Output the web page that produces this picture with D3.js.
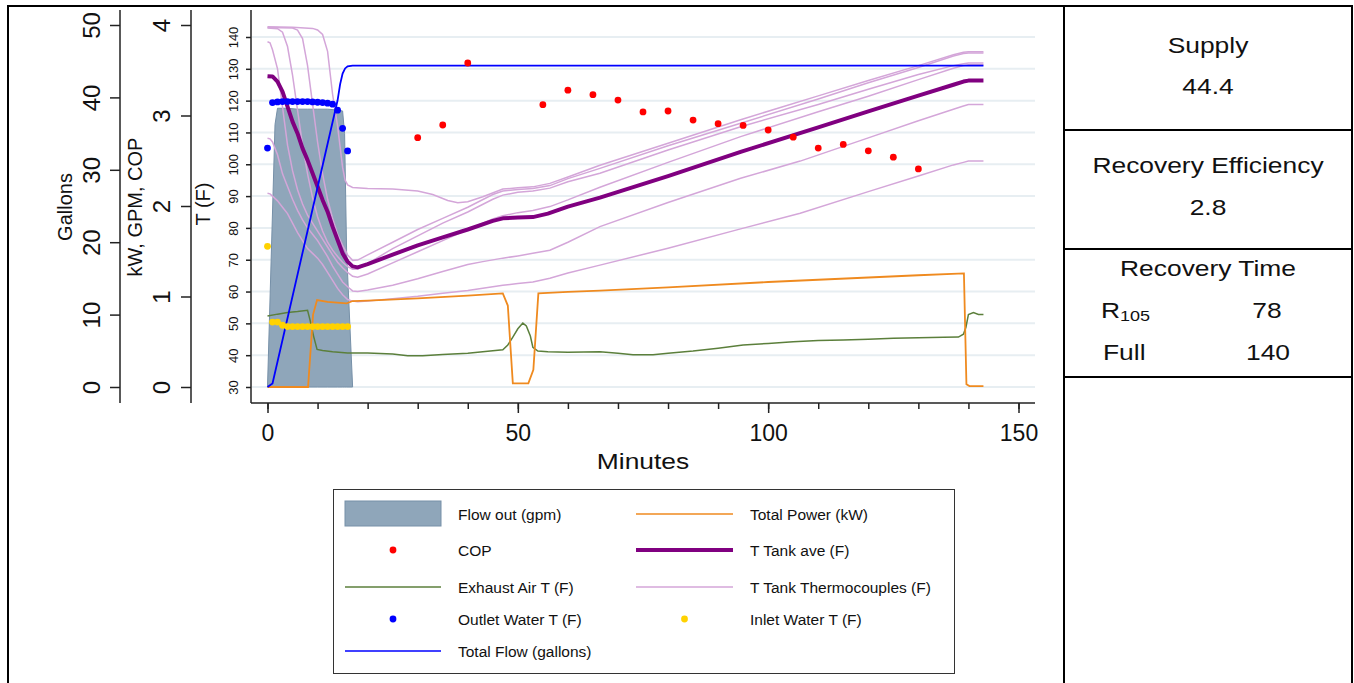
<!DOCTYPE html>
<html>
<head>
<meta charset="utf-8">
<script src="https://cdn.jsdelivr.net/npm/d3@7"></script>
<style>
  body { margin: 0; background: #fff; }
  svg text { font-family: Arial, "Liberation Sans", sans-serif; fill: #111; }
</style>
</head>
<body>
<svg id="chart" width="1354" height="683"></svg>
<script>
// ---- data ----
const xMinorTicks = [0, 10, 20, 30, 40, 50, 60, 70, 80, 90, 100, 110, 120, 130, 140, 150];
const xMajorTicks = [0, 50, 100, 150];
const galTicks = [0, 10, 20, 30, 40, 50];
const kwTicks = [0, 1, 2, 3, 4];
const tTicks = [30, 40, 50, 60, 70, 80, 90, 100, 110, 120, 130, 140];

// [minute, value]
const flowOutGpm = [[0,0],[1.5,2.9],[2,3.08],[4,3.08],[6,3.07],[8,3.07],[10,3.07],[12,3.07],[14,3.06],[15,3.05],[15.4,2.8],[15.8,1.5],[17,0]];
const totalFlowGal = [[0,0],[1,0.5],[14,39.6],[14.5,41.8],[15,43.3],[15.5,44.0],[16,44.3],[17,44.4],[143,44.4]];
const totalPowerKw = [[0,0],[8.1,0],[9.1,0.8],[9.9,0.96],[12,0.94],[15.8,0.925],[17,0.95],[20,0.955],[30,0.98],[40,1.01],[47,1.035],[48,0.9],[49,0.04],[52.1,0.04],[53.1,0.19],[54.1,1.035],[56,1.04],[60,1.05],[66.4,1.065],[80,1.1],[100,1.16],[120,1.21],[130,1.235],[139.1,1.256],[139.6,0.03],[140.2,0.01],[143,0.01]];
const copPoints = [[30,2.755],[35,2.895],[40,3.58],[55,3.12],[60,3.28],[65,3.23],[70,3.17],[75,3.04],[80,3.05],[85,2.95],[90,2.91],[95,2.89],[100,2.84],[105,2.76],[110,2.64],[115,2.68],[120,2.61],[125,2.54],[130,2.41]];
const exhaustAirT = [[0,52.3],[2,52.9],[4,53.4],[6,53.7],[8,54.1],[8.5,51],[9.2,46],[9.9,41.8],[11,41.5],[13,41.1],[16,40.7],[20,40.7],[25,40.4],[28,39.8],[31,39.8],[35,40.2],[40,40.6],[45,41.4],[47,41.7],[48,43.2],[49,45.7],[50,48.3],[51,50.1],[51.7,49.2],[52.5,46],[53,42.5],[54,41.3],[56,41.1],[60,40.9],[66.4,41.1],[70,40.6],[73,40.1],[77,40.1],[80,40.6],[85,41.3],[90,42.2],[95,43.2],[100,43.7],[105,44.2],[110,44.6],[115,44.8],[120,45],[125,45.3],[130,45.5],[135,45.6],[138,45.7],[139,46.6],[139.5,48.8],[140,52.8],[141,53.4],[142,52.8],[143,52.8]];
const tankAveT = [[0,127.7],[1,127.6],[2,126],[3,122.8],[4,118.1],[5,113.4],[6,109.7],[7,105],[8,101.3],[9,97.2],[10,93],[11,88.8],[12,85.1],[13,80.4],[14,76.2],[15,72],[16,69.4],[17,67.9],[18,67.6],[20,68.6],[25,71.6],[30,74.5],[35,77],[40,79.5],[45,82.2],[47,83],[50,83.3],[53,83.4],[56,84.5],[60,86.7],[66.4,89.5],[80,96.3],[94.5,103.9],[110,111.6],[120,116.6],[130,121.6],[137,125],[139,126],[140,126.3],[143,126.3]];
const tcA = [[0,143.2],[5,143.1],[9,142.7],[10,142.2],[11,140.8],[12,135.5],[13,122],[14,112],[15,99],[15.5,95],[16,93.5],[17,92.7],[20,92.4],[25,92.2],[30,91.6],[33,90.5],[36,88.6],[38,87.9],[40,88.2],[43,89.8],[47,92.2],[50,92.6],[53,92.9],[56.4,94],[60,96],[66.4,99.7],[80,106.6],[94.5,114],[110,121.5],[120,126.3],[130,131],[137,134.4],[139,135.2],[140,135.4],[143,135.4]];
const tcB = [[0,143.0],[5,142.8],[6,142.2],[7,139.5],[8,131],[9,119],[10,107],[11,97],[12,89],[13,83],[14,78],[15,74.5],[16,71.5],[17,69.8],[18,69.9],[20,71.5],[25,75.5],[30,79.5],[35,83],[40,86.5],[45,90.5],[47,91.6],[50,92.1],[53,92.4],[56.4,93.3],[60,95.5],[66.4,98.7],[80,105.8],[94.5,112.9],[110,120.5],[120,125.6],[130,130.4],[137,134],[139,134.8],[140,135],[143,135]];
const tcC = [[0,142.8],[2,142.6],[3,141.5],[4,137],[5,128],[6,117],[7,106],[8,97],[9,89.5],[10,83.5],[11,79],[12,75.5],[13,73],[14,71],[15,69.2],[16,67.8],[17,67],[18,67],[20,68.8],[25,73.5],[30,77.5],[35,81.5],[40,85],[45,89],[47,90.3],[50,91.2],[53,91.6],[56.4,92.5],[60,94.5],[66.4,97.2],[80,104.5],[94.5,111.8],[110,118.8],[120,123.6],[130,128.2],[137,131],[139,131.6],[140,131.8],[143,131.8]];
const tcD = [[0,138.5],[0.5,138.2],[1,136],[2,130],[3,118],[4,106],[5,98],[6,92],[7,87.5],[8,84],[9,81.5],[10,79],[11,76.5],[12,74],[13,71.5],[14,69.2],[15,67.5],[16,66],[17,64.8],[18,64.5],[20,65.5],[25,69],[30,72.5],[35,76],[40,79.5],[45,82.8],[47,83.8],[50,84.8],[53,85.5],[56.4,86.7],[60,88.8],[66.4,92.8],[80,100.6],[94.5,108.7],[110,116.5],[120,121.4],[130,126.6],[137,130.2],[139,131],[140,131.3],[143,131.3]];
const tcE = [[0,108.2],[0.5,108],[1,107],[2,103],[3,97],[4,93],[5,89],[6,85.5],[7,82.5],[8,80],[9,78],[10,76],[11,73.5],[12,71],[13,68],[14,65.5],[15,63],[16,61.5],[17,60.2],[18,60],[20,60.5],[25,62],[30,64],[35,66.3],[40,68.5],[43,69.4],[47,70.5],[50,71.2],[53,72],[56.4,73],[60,75.5],[66.4,80.4],[80,88],[94.5,95.6],[106.4,101],[120,108.3],[130,113.7],[137,117.3],[139,118.3],[140,118.8],[143,118.8]];
const tcF = [[0,90.9],[0.5,90.7],[1,90],[2,88.5],[3,86.5],[4,84.5],[5,81.5],[6,78.5],[7,76],[8,73.5],[9,72],[10,70.5],[11,68.5],[12,66],[13,63.5],[14,61],[15,59],[16,57.5],[17,57],[18,56.8],[20,57],[25,57.7],[30,58.5],[35,59.5],[40,60.3],[43,61],[47,62],[50,62.5],[53,63],[56.4,64.2],[60,65.8],[66.4,68.3],[80,73.6],[94.5,79.7],[106.4,84.6],[120,91.4],[130,96.3],[137,99.8],[139,100.6],[140,101],[143,101]];
const thermocouples = [tcA, tcB, tcC, tcD, tcE, tcF];
const outletWaterT = [[0,105.1],[1,119.4],[2,119.6],[3,119.7],[4,119.7],[5,119.7],[6,119.7],[7,119.7],[8,119.7],[9,119.6],[10,119.5],[11,119.4],[12,119.2],[13,118.9],[14,117],[15,111.3],[16,104.2]];
const inletWaterT = [[0,74.2],[1,50.4],[2,50.4],[3,49.4],[4,49],[5,49],[6,49],[7,49],[8,49],[9,49],[10,49],[11,49],[12,49],[13,49],[14,49],[15,49],[16,49]];

const legendItems = [
  { label: "Flow out (gpm)", type: "area", color: "#8fa6ba", col: 0, row: 0 },
  { label: "Total Power (kW)", type: "line", color: "#ef8a1f", width: 1.5, col: 1, row: 0 },
  { label: "COP", type: "dot", color: "#ff0000", col: 0, row: 1 },
  { label: "T Tank ave (F)", type: "line", color: "#800080", width: 4, col: 1, row: 1 },
  { label: "Exhaust Air T (F)", type: "line", color: "#5b7f3b", width: 1.5, col: 0, row: 2 },
  { label: "T Tank Thermocouples (F)", type: "line", color: "#d4a6d9", width: 1.5, col: 1, row: 2 },
  { label: "Outlet Water T (F)", type: "dot", color: "#0000ff", col: 0, row: 3 },
  { label: "Inlet Water T (F)", type: "dot", color: "#ffd200", col: 1, row: 3 },
  { label: "Total Flow (gallons)", type: "line", color: "#0000ff", width: 1.5, col: 0, row: 4 }
];

const summaryRows = [
  { title: "Supply", value: "44.4" },
  { title: "Recovery Efficiency", value: "2.8" },
  { title: "Recovery Time", r105: "78", full: "140" }
];

// ---- layout ----
const svg = d3.select("#chart");
const plot = { left: 251, right: 1035, top: 10, bottom: 403 };
const stretch = 1.2; // horizontal text looks wider than plain Arial in the reference

const x = d3.scaleLinear().domain([0, 150]).range([267.5, 1018.5]);
const yGal = d3.scaleLinear().domain([0, 50]).range([387, 25]);
const yKw = d3.scaleLinear().domain([0, 4]).range([387, 25]);
const yT = d3.scaleLinear().domain([30, 140]).range([387, 37]);

function wideText(g, tx, ty, str, size, anchor) {
  return g.append("text")
    .attr("transform", `translate(${tx},${ty}) scale(${stretch},1)`)
    .attr("text-anchor", anchor || "middle")
    .attr("font-size", size)
    .text(str);
}

// outer frame
svg.append("line").attr("x1", 8).attr("x2", 1353).attr("y1", 6).attr("y2", 6)
  .attr("stroke", "#000").attr("stroke-width", 2);
svg.append("line").attr("x1", 8).attr("x2", 8).attr("y1", 5).attr("y2", 683)
  .attr("stroke", "#000").attr("stroke-width", 2);

// gridlines
svg.append("g").selectAll("line").data(tTicks).join("line")
  .attr("x1", plot.left + 1).attr("x2", plot.right)
  .attr("y1", d => yT(d)).attr("y2", d => yT(d))
  .attr("stroke", "#e7eef2").attr("stroke-width", 2);

// left axes
function leftAxis(scale, ticks, xPos, tickLen, labelOffset, fontSize) {
  const g = svg.append("g")
    .attr("transform", `translate(${xPos},0)`)
    .attr("font-family", "Arial, 'Liberation Sans', sans-serif")
    .call(d3.axisLeft(scale).tickValues(ticks).tickSize(tickLen).tickSizeOuter(0).tickFormat(d3.format("d")));
  g.select(".domain").remove();
  g.append("line").attr("y1", plot.top).attr("y2", plot.bottom)
    .attr("stroke", "#222").attr("stroke-width", 1.5);
  g.selectAll(".tick line").attr("stroke", "#222").attr("stroke-width", 1.5);
  g.selectAll(".tick text")
    .attr("transform", "rotate(-90)")
    .attr("x", 0).attr("y", -labelOffset).attr("dy", 0)
    .attr("text-anchor", "middle")
    .attr("font-size", fontSize)
    .attr("fill", "#111");
  return g;
}
leftAxis(yGal, galTicks, 120, 10, 20, 24);
leftAxis(yKw, kwTicks, 191, 10, 21, 24);
leftAxis(yT, tTicks, plot.left, 5, 13, 13);

function axisTitle(text, bx, cy, size) {
  svg.append("text")
    .attr("transform", `translate(${bx},${cy}) rotate(-90)`)
    .attr("text-anchor", "middle")
    .attr("font-size", size)
    .text(text);
}
axisTitle("Gallons", 72, 207, 20);
axisTitle("kW, GPM, COP", 142, 207, 20);
axisTitle("T (F)", 210, 204, 20);

// bottom axis
const xMinor = svg.append("g")
  .attr("transform", `translate(0,${plot.bottom})`)
  .call(d3.axisBottom(x).tickValues(xMinorTicks).tickSize(6).tickFormat(""));
xMinor.select(".domain").remove();
xMinor.selectAll(".tick line").attr("stroke", "#222").attr("stroke-width", 1.5);

const xMajor = svg.append("g")
  .attr("transform", `translate(0,${plot.bottom})`)
  .attr("font-family", "Arial, 'Liberation Sans', sans-serif")
  .call(d3.axisBottom(x).tickValues(xMajorTicks).tickSize(10).tickPadding(12));
xMajor.select(".domain").remove();
xMajor.selectAll(".tick line").attr("stroke", "#222").attr("stroke-width", 1.5);
xMajor.selectAll(".tick text").attr("font-size", 23).attr("fill", "#111");
svg.append("line").attr("x1", plot.left).attr("x2", plot.right)
  .attr("y1", plot.bottom).attr("y2", plot.bottom)
  .attr("stroke", "#222").attr("stroke-width", 1.5);
wideText(svg, 643, 469, "Minutes", 22);

// ---- series ----
const flowArea = d3.area()
  .x(d => x(d[0])).y0(yKw(0)).y1(d => yKw(d[1]));
svg.append("path").datum(flowOutGpm)
  .attr("d", flowArea)
  .attr("fill", "#8fa6ba").attr("stroke", "#7690a8").attr("stroke-width", 1);

const lineT = d3.line().x(d => x(d[0])).y(d => yT(d[1]));
const lineKw = d3.line().x(d => x(d[0])).y(d => yKw(d[1]));
const lineGal = d3.line().x(d => x(d[0])).y(d => yGal(d[1]));

svg.append("g").selectAll("path").data(thermocouples).join("path")
  .attr("d", lineT)
  .attr("fill", "none").attr("stroke", "#d4a6d9").attr("stroke-width", 1.5);

svg.append("path").datum(tankAveT).attr("d", lineT)
  .attr("fill", "none").attr("stroke", "#800080").attr("stroke-width", 4)
  .attr("stroke-linejoin", "round");

svg.append("path").datum(exhaustAirT).attr("d", lineT)
  .attr("fill", "none").attr("stroke", "#5b7f3b").attr("stroke-width", 1.5);

svg.append("path").datum(totalPowerKw).attr("d", lineKw)
  .attr("fill", "none").attr("stroke", "#ef8a1f").attr("stroke-width", 1.8);

svg.append("path").datum(totalFlowGal).attr("d", lineGal)
  .attr("fill", "none").attr("stroke", "#0000ff").attr("stroke-width", 1.8);

function dots(data, yScale, color) {
  svg.append("g").selectAll("circle").data(data).join("circle")
    .attr("cx", d => x(d[0])).attr("cy", d => yScale(d[1]))
    .attr("r", 3.4).attr("fill", color);
}
dots(copPoints, yKw, "#ff0000");
dots(outletWaterT, yT, "#0000ff");
dots(inletWaterT, yT, "#ffd200");

// ---- legend ----
const legend = svg.append("g");
legend.append("rect").attr("x", 333.5).attr("y", 489.5).attr("width", 621).attr("height", 184)
  .attr("fill", "#fff").attr("stroke", "#333").attr("stroke-width", 1);
const legCols = [{ sx: 345, sw: 96, tx: 458 }, { sx: 636, sw: 97, tx: 750 }];
const legRows = [514, 550, 587, 619, 651];
legendItems.forEach(it => {
  const c = legCols[it.col], cy = legRows[it.row];
  if (it.type === "area") {
    legend.append("rect").attr("x", c.sx).attr("y", cy - 13).attr("width", c.sw).attr("height", 25)
      .attr("fill", it.color).attr("stroke", "#7690a8");
  } else if (it.type === "line") {
    legend.append("line").attr("x1", c.sx).attr("x2", c.sx + c.sw).attr("y1", cy).attr("y2", cy)
      .attr("stroke", it.color).attr("stroke-width", it.width);
  } else {
    legend.append("circle").attr("cx", c.sx + c.sw / 2).attr("cy", cy).attr("r", 3.4).attr("fill", it.color);
  }
  legend.append("text").attr("x", c.tx).attr("y", cy + 5.5).attr("font-size", 15.5).text(it.label);
});

// ---- summary panel ----
const panel = svg.append("g");
const px0 = 1064, px1 = 1352, pcx = 1208;
panel.append("line").attr("x1", px0).attr("x2", px0).attr("y1", 5).attr("y2", 683).attr("stroke", "#000").attr("stroke-width", 2);
panel.append("line").attr("x1", px1).attr("x2", px1).attr("y1", 5).attr("y2", 683).attr("stroke", "#000").attr("stroke-width", 2);
[130, 249, 377].forEach(yy => {
  panel.append("line").attr("x1", px0).attr("x2", px1).attr("y1", yy).attr("y2", yy)
    .attr("stroke", "#000").attr("stroke-width", 2);
});
wideText(panel, pcx, 53, summaryRows[0].title, 22);
wideText(panel, pcx, 94, summaryRows[0].value, 22);
wideText(panel, pcx, 173, summaryRows[1].title, 22);
wideText(panel, pcx, 215, summaryRows[1].value, 22);
wideText(panel, pcx, 276, summaryRows[2].title, 22);
const rt = wideText(panel, 1101, 318, "", 22, "start");
rt.append("tspan").text("R");
rt.append("tspan").attr("font-size", 15).attr("dy", 3).text("105");
wideText(panel, 1267, 318, summaryRows[2].r105, 22);
wideText(panel, 1103, 360, "Full", 22, "start");
wideText(panel, 1268, 360, summaryRows[2].full, 22);
</script>
</body>
</html>
